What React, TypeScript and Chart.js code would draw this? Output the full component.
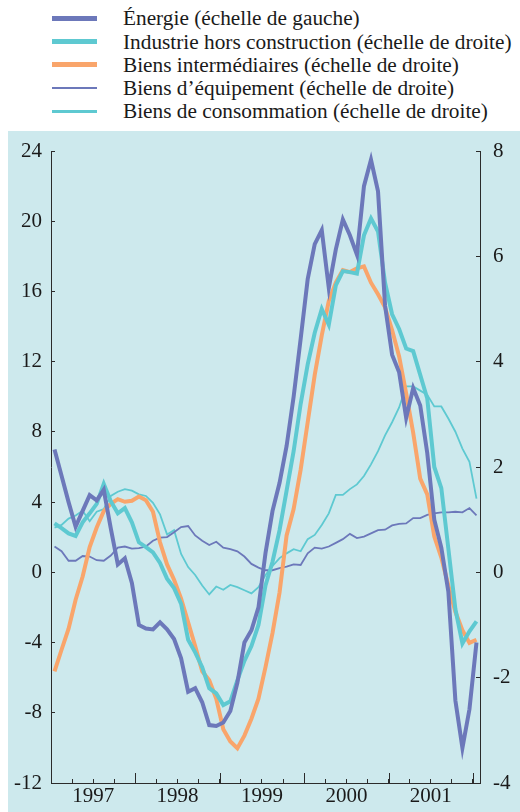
import React, { useEffect, useRef } from 'react';
import { Chart, registerables } from 'chart.js';

Chart.register(...registerables);

// ---- Data (monthly, Jan 1997 .. Jan 2002) ----
const years = ['1997', '1998', '1999', '2000', '2001'];
const months: string[] = [];
for (let y = 1997; y <= 2002; y++) {
  for (let m = 1; m <= 12; m++) {
    if (months.length < 61) months.push(`${y}-${String(m).padStart(2, '0')}`);
  }
}

// Énergie (left scale)
const energie = [
  7.0, 5.5, 4.0, 2.6, 3.5, 4.4, 4.1, 4.7, 2.5, 0.45,
  0.8, -0.6, -3.0, -3.2, -3.25, -2.85, -3.25, -3.8, -4.9, -6.8,
  -6.6, -7.4, -8.7, -8.75, -8.55, -7.9, -6.3, -4.0, -3.3, -2.0,
  1.1, 3.5, 5.1, 7.2, 10.0, 13.3, 16.7, 18.7, 19.5, 16.2,
  18.4, 20.1, 19.2, 18.1, 22.0, 23.5, 21.7, 15.2, 12.4, 11.4,
  8.8, 10.5, 9.5, 6.8, 3.0, 1.4, -1.1, -7.3, -10.0, -7.8, -4.0,
];
// Industrie hors construction (right scale)
const industrie = [
  0.93, 0.84, 0.74, 0.69, 0.95, 1.12, 1.3, 1.68, 1.35, 1.12,
  1.22, 0.95, 0.57, 0.48, 0.38, 0.18, -0.12, -0.3, -0.6, -1.28,
  -1.52, -1.8, -2.2, -2.3, -2.52, -2.45, -2.05, -1.68, -1.4, -1.0,
  -0.25, 0.2, 0.8, 1.55, 2.3, 3.2, 3.95, 4.55, 5.0, 4.7,
  5.45, 5.72, 5.7, 5.67, 6.4, 6.72, 6.47, 5.5, 4.9, 4.62,
  4.25, 4.2, 3.75, 3.3, 2.0, 1.6, 0.45, -0.7, -1.35, -1.12, -0.93,
];
// Biens intermédiaires (right scale)
const intermediaires = [
  -1.88, -1.47, -1.07, -0.52, -0.08, 0.48, 0.85, 1.16, 1.3, 1.39,
  1.34, 1.36, 1.44, 1.37, 1.15, 0.57, 0.15, -0.14, -0.5, -0.95,
  -1.4, -1.88, -2.05, -2.4, -2.98, -3.21, -3.34, -3.1, -2.78, -2.4,
  -1.8, -1.15, -0.38, 0.7, 1.2, 1.95, 2.85, 3.75, 4.5, 5.15,
  5.5, 5.74, 5.7, 5.77, 5.81, 5.5, 5.28, 5.03, 4.6, 4.1,
  3.4, 2.65, 1.78, 1.48, 0.68, 0.28, -0.25, -0.75, -1.1, -1.34, -1.28,
];
// Biens d'équipement (right scale)
const equipement = [
  0.49, 0.4, 0.22, 0.22, 0.31, 0.3, 0.23, 0.22, 0.32, 0.47,
  0.49, 0.45, 0.46, 0.49, 0.6, 0.66, 0.67, 0.76, 0.86, 0.88,
  0.7, 0.6, 0.52, 0.58, 0.47, 0.44, 0.4, 0.3, 0.16, 0.09,
  0.04, 0.04, 0.08, 0.11, 0.15, 0.14, 0.36, 0.47, 0.45, 0.49,
  0.56, 0.63, 0.73, 0.65, 0.68, 0.74, 0.8, 0.81, 0.89, 0.92,
  0.93, 1.03, 1.03, 1.09, 1.12, 1.14, 1.14, 1.15, 1.14, 1.22, 1.08,
];
// Biens de consommation (right scale)
const consommation = [
  0.85, 0.9, 1.02, 1.08, 1.17, 0.97, 1.15, 1.2, 1.45, 1.53,
  1.58, 1.55, 1.48, 1.45, 1.32, 1.1, 0.72, 0.8, 0.35, 0.1,
  -0.05, -0.25, -0.42, -0.27, -0.33, -0.24, -0.28, -0.34, -0.4, -0.28,
  -0.05, 0.12, 0.27, 0.36, 0.44, 0.4, 0.63, 0.71, 0.9, 1.12,
  1.47, 1.47, 1.58, 1.67, 1.83, 2.05, 2.3, 2.6, 2.85, 3.13,
  3.53, 3.53, 3.45, 3.37, 3.15, 3.15, 2.92, 2.67, 2.35, 2.1, 1.4,
];

const leftRange = { min: -12, max: 24, step: 4 };
const rightRange = { min: -4, max: 8, step: 2 };

const BLUE = '#6c78ba';
const TEAL = '#5ec9d1';
const ORANGE = '#f9a56b';
const BG = '#cde9ed';
const AXIS = '#2b2b2b';
const FONT = "'Liberation Serif', 'Times New Roman', serif";

const legendItems = [
  { label: 'Énergie (échelle de gauche)', color: BLUE, w: 5 },
  { label: 'Industrie hors construction (échelle de droite)', color: TEAL, w: 5 },
  { label: 'Biens intermédiaires (échelle de droite)', color: ORANGE, w: 5 },
  { label: 'Biens d’équipement (échelle de droite)', color: BLUE, w: 2.5 },
  { label: 'Biens de consommation (échelle de droite)', color: TEAL, w: 2.5 },
];

const toPoints = (arr: number[]) => arr.map((v, i) => ({ x: i + 0.5, y: v }));

const yearTicks = {
  id: 'yearTicks',
  afterDraw(chart: any) {
    const xs = chart.scales.x;
    const ctx = chart.ctx;
    const b = chart.chartArea.bottom;
    ctx.save();
    ctx.strokeStyle = AXIS;
    ctx.lineWidth = 1;
    for (let v = 0; v <= months.length; v += 12) {
      const px = Math.round(xs.getPixelForValue(v)) + 0.5;
      ctx.beginPath();
      ctx.moveTo(px, b);
      ctx.lineTo(px, b - 10);
      ctx.stroke();
    }
    ctx.restore();
  },
};

const zeroPad = (s: any) => {
  s.paddingTop = 0;
  s.paddingBottom = 0;
  s.paddingLeft = 0;
  s.paddingRight = 0;
};

export default function App() {
  const ref = useRef<HTMLCanvasElement | null>(null);

  useEffect(() => {
    if (!ref.current) return;
    const tickFont = { family: FONT, size: 21 };
    const chart = new Chart(ref.current, {
      type: 'line',
      data: {
        datasets: [
          { label: legendItems[0].label, data: toPoints(energie), borderColor: BLUE, borderWidth: 4, yAxisID: 'y' },
          { label: legendItems[1].label, data: toPoints(industrie), borderColor: TEAL, borderWidth: 4, yAxisID: 'y2' },
          { label: legendItems[2].label, data: toPoints(intermediaires), borderColor: ORANGE, borderWidth: 4, yAxisID: 'y2' },
          { label: legendItems[3].label, data: toPoints(equipement), borderColor: BLUE, borderWidth: 1.8, yAxisID: 'y2' },
          { label: legendItems[4].label, data: toPoints(consommation), borderColor: TEAL, borderWidth: 1.8, yAxisID: 'y2' },
        ] as any,
      },
      options: {
        animation: false,
        responsive: false,
        devicePixelRatio: 1,
        layout: { padding: { top: 20, left: 0, right: 0, bottom: 0 } },
        elements: {
          point: { radius: 0 },
          line: { tension: 0, borderJoinStyle: 'miter', borderCapStyle: 'butt' },
        },
        plugins: { legend: { display: false }, tooltip: { enabled: false } },
        scales: {
          x: {
            type: 'linear',
            min: 0,
            max: months.length,
            afterFit: (s: any) => { s.height = 29; zeroPad(s); },
            ticks: {
              stepSize: 3,
              autoSkip: false,
              maxRotation: 0,
              includeBounds: false,
              padding: 5,
              color: '#1a1a1a',
              font: tickFont,
              callback: (value: any) => {
                const v = Number(value);
                if ((v - 6) % 12 === 0) return years[(v - 6) / 12] ?? '';
                return '';
              },
            },
            grid: { drawOnChartArea: false, drawTicks: true, tickLength: -4, tickColor: AXIS },
            border: { display: true, color: AXIS, width: 1 },
          },
          y: {
            type: 'linear',
            position: 'left',
            min: leftRange.min,
            max: leftRange.max,
            afterFit: (s: any) => { s.width = 43; zeroPad(s); },
            ticks: { stepSize: leftRange.step, padding: 13, color: '#1a1a1a', font: tickFont, callback: (v: any) => String(v) },
            grid: { drawOnChartArea: false, drawTicks: true, tickLength: -4, tickColor: AXIS },
            border: { display: true, color: AXIS, width: 1 },
          },
          y2: {
            type: 'linear',
            position: 'right',
            min: rightRange.min,
            max: rightRange.max,
            afterFit: (s: any) => { s.width = 40; zeroPad(s); },
            ticks: { stepSize: rightRange.step, padding: 17, color: '#1a1a1a', font: tickFont, callback: (v: any) => String(v) },
            grid: { drawOnChartArea: false, drawTicks: true, tickLength: -4, tickColor: AXIS },
            border: { display: true, color: AXIS, width: 1 },
          },
        },
      } as any,
      plugins: [yearTicks],
    });
    return () => chart.destroy();
  }, []);

  const rowStep = 23.3;
  const fs = 21.3;
  return (
    <div style={{ position: 'absolute', left: 0, top: 0, width: 520, height: 812, background: '#fff', overflow: 'hidden' }}>
      {legendItems.map((it, i) => {
        const cy = 18.3 + i * rowStep;
        return (
          <React.Fragment key={i}>
            <div style={{ position: 'absolute', left: 52, width: 45, top: cy - it.w / 2, height: it.w, background: it.color }} />
            <span style={{ position: 'absolute', left: 123, top: cy + 7.7 - 17.8, fontFamily: FONT, fontSize: fs, lineHeight: `${fs}px`, color: '#1a1a1a', whiteSpace: 'nowrap' }}>
              {it.label}
            </span>
          </React.Fragment>
        );
      })}
      <div style={{ position: 'absolute', left: 8, top: 131, width: 512, height: 681, background: BG }}>
        <canvas ref={ref} width={512} height={681} style={{ display: 'block', width: 512, height: 681 }} />
      </div>
    </div>
  );
}
